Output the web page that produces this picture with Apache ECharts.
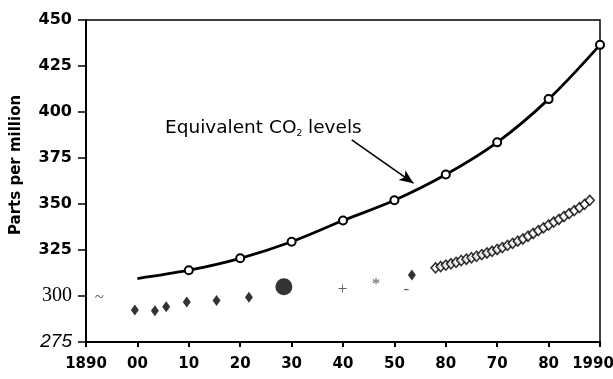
<!DOCTYPE html>
<html><head><meta charset="utf-8">
<script src="https://cdn.jsdelivr.net/npm/echarts@6/dist/echarts.min.js"></script>
<style>html,body{margin:0;padding:0;background:#fff}#c{width:613px;height:379px}</style>
</head><body><div id="c"></div>
<script>
// ---- data ----
const xTickLabels = ['1890','00','10','20','30','40','50','80','70','80','1990'];
const yTicks = [275,300,325,350,375,400,425,450];
// Equivalent CO2 curve
const curveYears  = [1900, 1910, 1920, 1930, 1940, 1950, 1960, 1970, 1980, 1990];
const curveValues = [309.5, 314, 320.5, 329.5, 341, 352, 366, 383.5, 407, 436.5];
// ice core filled diamonds
const iceYears  = [1899.5, 1903.4, 1905.6, 1909.6, 1915.4, 1921.7, 1953.4];
const iceValues = [292.4, 292.0, 294.2, 296.7, 297.5, 299.3, 311.4];
// big filled circle
const dotYears = [1928.5];
const dotValues = [305];
// glyph markers
const glyphYears  = [1892.6, 1939.9, 1946.4, 1952.3];
const glyphValues = [299, 303.3, 306, 303.3];
const glyphChars  = ['~', '+', '*', '-'];
// Mauna Loa open diamonds
const mlYears  = [1958,1959,1960,1961,1962,1963,1964,1965,1966,1967,1968,1969,1970,1971,1972,1973,1974,1975,1976,1977,1978,1979,1980,1981,1982,1983,1984,1985,1986,1987,1988];
const mlValues = [315.3,316,316.8,317.5,318.3,319.3,320,320.8,321.6,322.5,323.4,324.3,325.3,326.3,327.5,328.6,329.8,331,332.5,334,335.5,337,338.6,340.2,341.6,343.2,344.8,346.4,348,349.8,352];
// annotation
const annoText = ['Equivalent CO', '2', ' levels'];
const arrowFrom = [1941.7, 384.8];
const arrowTo = [1953.7, 361.3];

const zip = (a, b) => a.map((v, i) => [v, b[i]]);
const chart = echarts.init(document.getElementById('c'), null, {renderer: 'canvas'});
const F = 'DejaVu Sans, Verdana, sans-serif';

chart.setOption({
  animation: false,
  grid: {left: 86, right: 13, top: 20, bottom: 37, show: true, borderColor: '#000', borderWidth: 1.5,
         backgroundColor: 'transparent', containLabel: false, outerBoundsMode: 'none'},
  xAxis: {
    type: 'value', min: 1890, max: 1990, interval: 10,
    axisLine: {lineStyle: {color: '#000', width: 2}},
    axisTick: {show: true, inside: false, length: 5, lineStyle: {color: '#000', width: 2}},
    splitLine: {show: false},
    axisLabel: {
      margin: 15, color: '#000', hideOverlap: false,
      formatter: v => {
        const i = Math.round((v - 1890) / 10);
        return (i === xTickLabels.length - 1 ? '{r|' : '{b|') + xTickLabels[i] + '}';
      },
      rich: {
        b: {fontFamily: F, fontWeight: 'bold', fontSize: 15, color: '#000'},
        r: {fontFamily: F, fontWeight: 'bold', fontSize: 15, color: '#000', padding: [0, 14, 0, 0]}
      }
    }
  },
  yAxis: {
    type: 'value', min: 275, max: 450, interval: 25,
    axisLine: {show: true, lineStyle: {color: '#000', width: 2}},
    axisTick: {show: true, length: 8, lineStyle: {color: '#000', width: 1.5}},
    splitLine: {show: false},
    axisLabel: {
      margin: 14, color: '#000',
      formatter: v => v === 300 ? '{s|300}' : (v === 275 ? '{i|275}' : '{b|' + v + '}'),
      rich: {
        b: {fontFamily: F, fontWeight: 'bold', fontSize: 16, color: '#000'},
        s: {fontFamily: 'Liberation Serif, Times New Roman, serif', fontSize: 20, color: '#000'},
        i: {fontFamily: 'Liberation Sans, Arial, sans-serif', fontStyle: 'italic', fontSize: 19, color: '#000'}
      }
    }
  },
  graphic: [
    {type: 'text', rotation: Math.PI / 2, x: 9, y: 235, style: {
      text: 'Parts per million', font: 'bold 15px ' + F, fill: '#000'}},
    {type: 'text', x: 165, y: 119, style: {
      text: '{a|' + annoText[0] + '}{s|' + annoText[1] + '}{a|' + annoText[2] + '}',
      rich: {
        a: {font: '18.5px ' + F, fill: '#000', verticalAlign: 'bottom', lineHeight: 19},
        s: {font: '9px ' + F, fill: '#000', verticalAlign: 'bottom', lineHeight: 14}
      }}}
  ],
  series: [
    {
      type: 'line', smooth: 0.35, z: 3,
      data: curveYears.map((y, i) => ({value: [y, curveValues[i]], symbol: i === 0 ? 'none' : 'emptyCircle'})),
      symbolSize: 8,
      lineStyle: {color: '#000', width: 2.8},
      itemStyle: {color: '#000', borderColor: '#000', borderWidth: 2.2},
      markLine: {
        silent: true, symbol: ['none', 'arrow'], symbolSize: [9, 14],
        lineStyle: {color: '#000', width: 1.6, type: 'solid'},
        label: {show: false},
        data: [[{coord: arrowFrom}, {coord: arrowTo}]]
      }
    },
    {
      type: 'scatter', data: zip(mlYears, mlValues), symbol: 'diamond', symbolSize: [9, 10], z: 4,
      itemStyle: {color: '#fff', borderColor: '#000', borderWidth: 1.6}
    },
    {
      type: 'scatter', data: zip(iceYears, iceValues), symbol: 'diamond', symbolSize: [8, 11], z: 4,
      itemStyle: {color: '#000'}
    },
    {
      type: 'scatter', data: zip(dotYears, dotValues), symbol: 'circle', symbolSize: 17, z: 4,
      itemStyle: {color: '#000'}
    },
    {
      type: 'scatter', data: glyphYears.map((y, i) => ({value: [y, glyphValues[i]], name: glyphChars[i]})),
      symbolSize: 1, itemStyle: {color: 'rgba(0,0,0,0)'}, z: 4,
      label: {show: true, position: 'inside', formatter: p => p.name,
        fontFamily: 'Liberation Serif, serif', fontSize: 17, color: '#333'}
    }
  ]
});
</script></body></html>
